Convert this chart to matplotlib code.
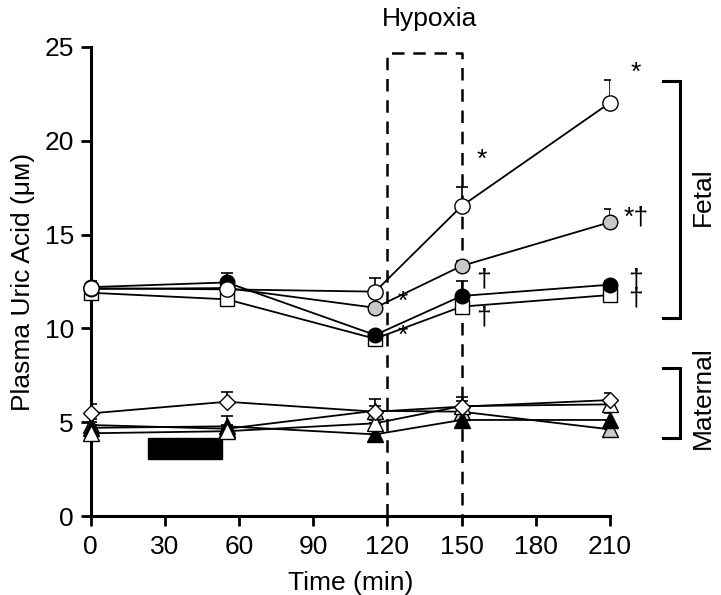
import matplotlib
matplotlib.use("Agg")
import matplotlib.pyplot as plt
from matplotlib.patches import Rectangle
import numpy as np

plt.rcParams['font.family'] = ['Liberation Sans', 'DejaVu Sans']

# sampling times (min)
times = [0, 55, 115, 150, 210]

# fetal series
fet_open = [12.14, 12.08, 11.96, 16.52, 22.03]
fet_open_err = [0.4, 0.4, 0.73, 1.03, 1.21]
fet_gray = [12.1, 12.15, 11.1, 13.33, 15.66]
fet_gray_err = [0.3, 0.3, 0.2, 0.25, 0.69]
fet_black = [12.2, 12.45, 9.65, 11.73, 12.33]
fet_black_err = [0.3, 0.5, 0.2, 0.8, 0.2]
fet_square = [11.9, 11.55, 9.45, 11.16, 11.78]
fet_square_err = [0.2, 0.2, 0.2, 0.3, 0.2]

# maternal series
mat_diamond = [5.47, 6.09, 5.56, 5.83, 6.18]
mat_diamond_err = [0.5, 0.5, 0.3, 0.3, 0.38]
mat_tri_open = [4.41, 4.52, 4.94, 5.86, 5.95]
mat_tri_open_err = [0.2, 0.2, 0.2, 0.5, 0.3]
mat_tri_black = [4.7, 4.78, 4.35, 5.12, 5.12]
mat_tri_black_err = [0.3, 0.55, 0.2, 0.3, 0.35]
mat_tri_gray = [4.85, 4.65, 5.61, 5.56, 4.62]
mat_tri_gray_err = [0.3, 0.2, 0.63, 0.3, 0.2]

gray = '#c8c8c8'
fs = 19

fig = plt.figure(figsize=(7.21, 5.95), dpi=100)
ax = fig.add_axes([90.7/721, 79/595, 519.3/721, 469/595])

def series(y, err, marker, face, ms, z):
    ax.errorbar(times, y, yerr=[np.zeros(len(err)), err], fmt='none',
                ecolor='black', elinewidth=1.2, capsize=4.5, capthick=1.2, zorder=z)
    ax.plot(times, y, color='black', lw=1.3, marker=marker, ms=ms,
            mfc=face, mec='black', mew=1.0, zorder=z + 0.5, clip_on=False)

# maternal
series(mat_tri_gray, mat_tri_gray_err, '^', gray, 11, 3)
series(mat_tri_black, mat_tri_black_err, '^', 'black', 11, 3.1)
series(mat_tri_open, mat_tri_open_err, '^', 'white', 11, 3.2)
series(mat_diamond, mat_diamond_err, 'D', 'white', 8.5, 3.3)

# fetal
series(fet_square, fet_square_err, 's', 'white', 10, 4)
series(fet_black, fet_black_err, 'o', 'black', 10.5, 4.1)
series(fet_gray, fet_gray_err, 'o', gray, 10.5, 4.2)
series(fet_open, fet_open_err, 'o', 'white', 11, 4.3)

# hypoxia window
hyp_start, hyp_end, hyp_top = 120, 150, 24.7
dash = (0, (5, 3.5))
ax.plot([hyp_start, hyp_start, hyp_end, hyp_end], [0, hyp_top, hyp_top, 0],
        color='black', lw=1.8, linestyle=dash, zorder=2, clip_on=False)
ax.text((hyp_start + hyp_end) / 2 + 2, 26.5, 'Hypoxia', ha='center', va='center', fontsize=fs)

# infusion bar
ax.add_patch(Rectangle((23, 3.05), 30, 1.1, facecolor='black', edgecolor='black', zorder=2))

# significance marks
marks = [(220.5, 23.6, '*'), (158, 19.0, '*'), (220.5, 15.9, '*†'),
         (159, 12.6, '†'), (126, 11.4, '*'), (126, 9.6, '*'),
         (159, 10.6, '†')]
for mx, my, s in marks:
    ax.text(mx, my, s, ha='center', va='center', fontsize=fs, clip_on=False)
ax.text(220.5, 12.1, '†\n†', ha='center', va='center', fontsize=fs,
        linespacing=0.75, clip_on=False)

# group brackets
bx0, bx1 = 231.3, 238.5
for lo, hi, label, ly in [(10.55, 23.2, 'Fetal', 17.0), (4.16, 7.9, 'Maternal', 6.3)]:
    ax.plot([bx0, bx1, bx1, bx0], [hi, hi, lo, lo], color='black', lw=2.2,
            clip_on=False, solid_joinstyle='miter')
    ax.text(247.5, ly, label, rotation=90, ha='center', va='center', fontsize=fs)

ax.set_xlim(0, 210)
ax.set_ylim(0, 25)
ax.set_xticks(np.arange(0, 211, 30))
ax.set_yticks(np.arange(0, 26, 5))
ax.set_xlabel('Time (min)', fontsize=fs, labelpad=8)
ax.set_ylabel('Plasma Uric Acid (μᴍ)', fontsize=fs, labelpad=7)
ax.tick_params(labelsize=fs, width=2, length=7, direction='out')
ax.tick_params(axis='x', pad=7)
ax.tick_params(axis='y', pad=5)
ax.spines['top'].set_visible(False)
ax.spines['right'].set_visible(False)
ax.spines['left'].set_linewidth(2.2)
ax.spines['bottom'].set_linewidth(2.2)

fig.savefig('out.png', dpi=100)
